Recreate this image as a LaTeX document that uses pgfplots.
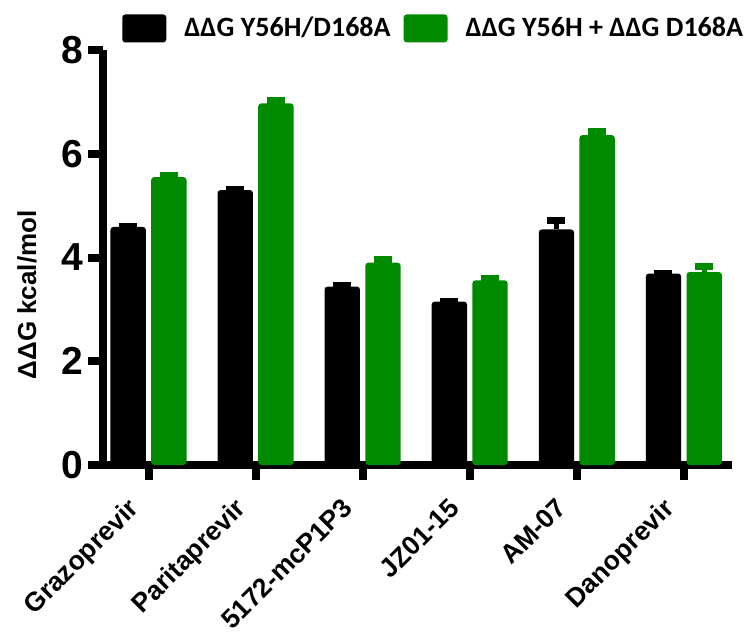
\documentclass[border=0pt]{standalone}
\usepackage{pgfplots}
\pgfplotsset{compat=1.18}
\usepackage{fontspec}
\setmainfont{Liberation Sans}
\newfontfamily\calibri{Carlito}
\definecolor{mygreen}{RGB}{0,138,0}
\begin{document}
\begin{tikzpicture}
\begin{axis}[
  at={(0,0)}, anchor=south west,
  scale only axis, width=314.5pt, height=207.5pt,
  xmin=-0.425, xmax=5.45, ymin=0, ymax=8,
  axis lines*=left,
  axis line style={line width=4pt, black},
  ytick={0,2,4,6,8}, xtick={0,...,5},
  xticklabels={Grazoprevir,Paritaprevir,5172-mcP1P3,JZ01-15,AM-07,Danoprevir},
  tick align=outside, major tick length=7.5pt,
  tick style={line width=4pt, black},
  /pgf/number format/assume math mode=true,
  y tick label style={font=\bfseries\fontsize{19.5}{20}\selectfont, inner sep=2pt},
  x tick label style={font=\bfseries\fontsize{13.3}{14}\selectfont, xshift=-11pt, yshift=-6.5pt, rotate=45, anchor=north east, inner sep=1pt},
  ylabel={ΔΔG kcal/mol},
  ylabel style={font=\bfseries\fontsize{13}{14}\selectfont, at={(axis description cs:-0.121,0.41)}, anchor=center},
  ybar, bar width=0.33,
  legend columns=2,
  legend style={at={(axis description cs:0.030,1.0867)}, anchor=north west, draw=none,
    font=\calibri\bfseries\fontsize{14}{15}\selectfont, inner sep=0pt,
    nodes={inner sep=0pt},
    /tikz/every odd column/.append style={column sep=9pt},
    /tikz/every even column/.append style={column sep=6.5pt}},
  legend image code/.code={\fill[#1, draw=none] (0pt,-7pt) rectangle (22pt,7pt);},
]
\addplot[fill=black, draw=none, bar shift=-0.19, rounded corners=1.5pt,
  error bars/.cd, y dir=plus, y explicit,
  error bar style={black, line width=2.5pt},
  error mark options={rotate=90, black, mark size=4.5pt, line width=3.5pt}]
  coordinates {(0,4.59) +- (0,0.005) (1,5.30) +- (0,0.005) (2,3.44) +- (0,0.02) (3,3.15) +- (0,0.005) (4,4.54) +- (0,0.175) (5,3.69) +- (0,0.005)};
\addplot[fill=mygreen, draw=none, bar shift=0.19, rounded corners=1.5pt,
  error bars/.cd, y dir=plus, y explicit,
  error bar style={mygreen, line width=2.5pt},
  error mark options={rotate=90, mygreen, mark size=4.5pt, line width=3.5pt}]
  coordinates {(0,5.55) +- (0,0.03) (1,6.97) +- (0,0.06) (2,3.90) +- (0,0.06) (3,3.56) +- (0,0.04) (4,6.36) +- (0,0.07) (5,3.72) +- (0,0.11)};
\legend{ΔΔG Y56H/D168A, ΔΔG Y56H + ΔΔG D168A}
\end{axis}
\pgfresetboundingbox
\path (-51.5pt,-86pt) rectangle (322pt,232.5pt);
\end{tikzpicture}
\end{document}
